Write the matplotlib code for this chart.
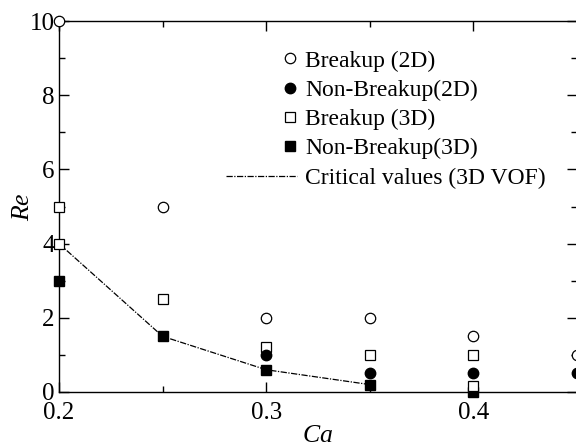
import matplotlib
matplotlib.use("Agg")
import matplotlib.pyplot as plt
from matplotlib.legend_handler import HandlerLine2D
from matplotlib.ticker import MultipleLocator

plt.rcParams['font.family'] = ['Liberation Serif', 'DejaVu Serif']
plt.rcParams['mathtext.fontset'] = 'custom'
plt.rcParams['mathtext.it'] = 'Liberation Serif:italic'

# data
ca_break_2d = [0.20, 0.25, 0.30, 0.35, 0.40, 0.45]
re_break_2d = [10.0, 5.0, 2.0, 2.0, 1.5, 1.0]

ca_nonbreak_2d = [0.30, 0.35, 0.40, 0.45]
re_nonbreak_2d = [1.0, 0.5, 0.5, 0.5]

ca_break_3d = [0.20, 0.20, 0.25, 0.30, 0.35, 0.40, 0.40]
re_break_3d = [5.0, 4.0, 2.5, 1.2, 1.0, 1.0, 0.15]

ca_nonbreak_3d = [0.20, 0.25, 0.30, 0.35, 0.40]
re_nonbreak_3d = [3.0, 1.5, 0.6, 0.2, 0.0]

ca_critical = [0.20, 0.25, 0.30, 0.35]
re_critical = [4.0, 1.5, 0.6, 0.2]


class RightMarkerHandler(HandlerLine2D):
    # marker-only entries: shift the single marker to the right end of the box
    def get_xdata(self, legend, xdescent, ydescent, width, height, fontsize):
        x0 = -xdescent
        xm = -xdescent + width - 0.3 * fontsize
        return [x0, 2 * xm - x0], [xm]


fig = plt.figure(figsize=(5.76, 4.46), dpi=100)
ax = fig.add_axes([59 / 576, 1 - 392 / 446, 518 / 576, 371 / 446])

ms = 7.5
ax.plot(ca_critical, re_critical, color='black', lw=0.9,
        linestyle=(0, (5, 1.2, 1, 1.2)), zorder=2,
        label='Critical values (3D VOF)')
ax.plot(ca_nonbreak_3d, re_nonbreak_3d, 's', color='black', ms=ms,
        zorder=3, clip_on=False, label='Non-Breakup(3D)')
ax.plot(ca_break_3d, re_break_3d, 's', mfc='white', mec='black', mew=0.9,
        ms=ms, zorder=4, clip_on=False, label='Breakup (3D)')
ax.plot(ca_nonbreak_2d, re_nonbreak_2d, 'o', color='black', ms=ms,
        zorder=5, clip_on=False, label='Non-Breakup(2D)')
ax.plot(ca_break_2d, re_break_2d, 'o', mfc='white', mec='black', mew=0.9,
        ms=ms, zorder=6, clip_on=False, label='Breakup (2D)')

ax.set_xlim(0.2, 0.45)
ax.set_ylim(0, 10)
ax.xaxis.set_minor_locator(MultipleLocator(0.05))
ax.yaxis.set_major_locator(MultipleLocator(2))
ax.yaxis.set_minor_locator(MultipleLocator(1))
ax.set_xticks([0.2, 0.3, 0.4])
ax.set_xticklabels(['0.2', '0.3', '0.4'])
ax.tick_params(which='both', direction='in', top=True, right=True,
               width=1, labelsize=18)
ax.tick_params(axis='x', pad=7)
ax.tick_params(axis='y', pad=3)
ax.tick_params(which='major', length=7)
ax.tick_params(which='minor', length=4)
for s in ax.spines.values():
    s.set_linewidth(1)

ax.set_xlabel('$Ca$', fontsize=18.5, labelpad=1)
ax.set_ylabel('$Re$', fontsize=18.5, labelpad=-3)

handles, labels = ax.get_legend_handles_labels()
order = [4, 3, 2, 1, 0]
marker_handles = handles[1:]
leg = fig.legend([handles[i] for i in order], [labels[i] for i in order],
                 loc='upper left', bbox_to_anchor=(226 / 576, 1 - 50 / 446),
                 bbox_transform=fig.transFigure, frameon=False,
                 fontsize=17, handlelength=3.0, handletextpad=0.35,
                 labelspacing=0.33, borderpad=0, borderaxespad=0,
                 numpoints=1,
                 handler_map={h: RightMarkerHandler() for h in marker_handles})

fig.savefig('out.png', dpi=100)
